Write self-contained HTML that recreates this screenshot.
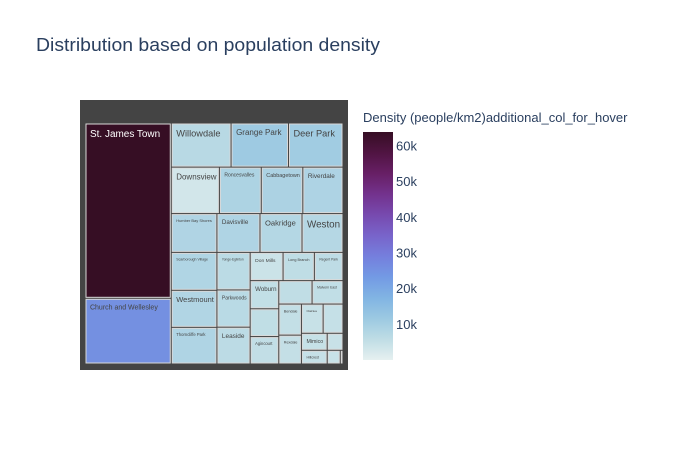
<!DOCTYPE html>
<html><head><meta charset="utf-8">
<style>
html,body{margin:0;padding:0;background:#fff;}
svg{display:block;font-family:"Liberation Sans","DejaVu Sans",sans-serif;}
</style></head>
<body>
<svg id="chart" width="700" height="450" viewBox="0 0 700 450">
  <text x="36" y="51" font-size="18" fill="#2a3f5f" textLength="344" lengthAdjust="spacingAndGlyphs">Distribution based on population density</text>
  <rect x="80" y="100" width="268" height="270" fill="#444444"></rect>
  <g id="tiles"></g>
  <defs>
    <linearGradient id="cbgrad" x1="0" y1="1" x2="0" y2="0">
      <stop offset="0" stop-color="rgb(230,240,240)"/>
      <stop offset="0.0909" stop-color="rgb(191,221,229)"/>
      <stop offset="0.1818" stop-color="rgb(156,201,226)"/>
      <stop offset="0.2727" stop-color="rgb(129,180,227)"/>
      <stop offset="0.3636" stop-color="rgb(115,154,228)"/>
      <stop offset="0.4545" stop-color="rgb(117,127,221)"/>
      <stop offset="0.5454" stop-color="rgb(120,100,202)"/>
      <stop offset="0.6363" stop-color="rgb(119,74,175)"/>
      <stop offset="0.7272" stop-color="rgb(115,50,141)"/>
      <stop offset="0.8181" stop-color="rgb(103,31,101)"/>
      <stop offset="0.9090" stop-color="rgb(80,20,66)"/>
      <stop offset="1" stop-color="rgb(54,14,36)"/>
    </linearGradient>
  </defs>
  <text x="363" y="122" font-size="13" fill="#2a3f5f">Density (people/km2)additional_col_for_hover</text>
  <rect x="363" y="132" width="30" height="228" fill="url(#cbgrad)"></rect>
  <g id="cbticks"></g>
</svg>
<script>
const names = ["St. James Town","Church and Wellesley","Willowdale","Grange Park","Deer Park","Downsview","Roncesvalles","Cabbagetown","Riverdale","Humber Bay Shores","Scarborough Village","Westmount","Thorncliffe Park","Davisville","Oakridge","Weston","Yonge-Eglinton","Parkwoods","Leaside","Don Mills","Long Branch","Regent Park","Woburn","Scarborough Junction","Agincourt","Harbourfront Queens","Malvern East","Bendale","Rexdale","Clairlea","Alderwood","Mimico","Hillcrest","Kingsview","Rouge","Humber"];
const areas = [15023,5630,2622,2517,2390,2222,1932,1918,1854,1760,1720,1680,1663,1660,1620,1580,1240,1230,1216,923,878,803,800,790,780,775,720,700,650,630,577,435,351,267,178,37];
const densities = [63800,25500,7200,11500,11000,3200,9000,9200,8800,8500,8400,8300,8600,8700,7800,7600,6600,6900,6500,4200,6000,6200,5500,5800,5600,5900,5700,5400,5300,4800,5100,4900,5000,4700,4600,200];
const cbTicks = [10000,20000,30000,40000,50000,60000];
const cbTickLabels = ["10k","20k","30k","40k","50k","60k"];

const stops=[[230,240,240],[191,221,229],[156,201,226],[129,180,227],[115,154,228],[117,127,221],[120,100,202],[119,74,175],[115,50,141],[103,31,101],[80,20,66],[54,14,36]];
const cmin=Math.min(...densities), cmax=Math.max(...densities);
function colorFor(v){
  let t=(v-cmin)/(cmax-cmin); t=Math.max(0,Math.min(1,t));
  const p=t*(stops.length-1), i=Math.min(stops.length-2,Math.floor(p)), f=p-i;
  const c=stops[i].map((a,k)=>Math.round(a+(stops[i+1][k]-a)*f));
  return {css:`rgb(${c[0]},${c[1]},${c[2]})`,lum:(0.299*c[0]+0.587*c[1]+0.114*c[2])};
}
// d3-style squarify (ratio 1)
function squarify(vals,x0,y0,x1,y1){
  const out=[];let i0=0,n=vals.length;let value=vals.reduce((a,b)=>a+b,0);
  while(i0<n){
    const dx=x1-x0,dy=y1-y0;let i1=i0,sumValue=0;
    do{sumValue=vals[i1++];}while(!sumValue&&i1<n);
    let minValue=sumValue,maxValue=sumValue;
    const alpha=Math.max(dy/dx,dx/dy)/(value);
    let beta=sumValue*sumValue*alpha;let minRatio=Math.max(maxValue/beta,beta/minValue);
    for(;i1<n;++i1){
      const nv=vals[i1];sumValue+=nv;
      if(nv<minValue)minValue=nv;if(nv>maxValue)maxValue=nv;
      beta=sumValue*sumValue*alpha;
      const newRatio=Math.max(maxValue/beta,beta/minValue);
      if(newRatio>minRatio){sumValue-=nv;break;}
      minRatio=newRatio;
    }
    const k=sumValue/value;
    if(dx<dy){ // row on top
      const h=dy*k;let x=x0;
      for(let j=i0;j<i1;j++){const w=dx*vals[j]/sumValue;out[j]=[x,y0,x+w,y0+h];x+=w;}
      y0+=h;
    }else{
      const w=dx*k;let y=y0;
      for(let j=i0;j<i1;j++){const h=dy*vals[j]/sumValue;out[j]=[x0,y,x0+w,y+h];y+=h;}
      x0+=w;
    }
    value-=sumValue;i0=i1;
  }
  return out;
}
const NS="http://www.w3.org/2000/svg";
const g=document.getElementById('tiles');
const rects=squarify(areas,85,123,343,364);
rects.forEach((r,i)=>{
  const x=r[0]+1,y=r[1]+1,w=Math.max(0,r[2]-r[0]-2),h=Math.max(0,r[3]-r[1]-2);
  const col=colorFor(densities[i]);
  const rc=document.createElementNS(NS,'rect');
  rc.setAttribute('x',x);rc.setAttribute('y',y);rc.setAttribute('width',w);rc.setAttribute('height',h);
  rc.setAttribute('fill',col.css);rc.setAttribute('stroke','#d9d9d9');rc.setAttribute('stroke-width','1');
  
  
  g.appendChild(rc);
  let fs=Math.min(10.5,(w-6)/(names[i].length*0.56));
  if(fs>=2.5 && h>fs+4){
    const t=document.createElementNS(NS,'text');
    t.setAttribute('x',x+4);t.setAttribute('y',y+4+fs*0.9);
    t.setAttribute('font-size',fs.toFixed(2));
    t.setAttribute('fill',col.lum<120?'#ffffff':'#444444');
    t.textContent=names[i];
    
    
    g.appendChild(t);
  }
});
// colorbar ticks
const cbTop=132,cbBot=360,cbMax=63900,cbMin=0;
const tg=document.getElementById('cbticks');
cbTicks.forEach((v,i)=>{
  const y=cbBot-(v-cbMin)/(cbMax-cbMin)*(cbBot-cbTop);
  const t=document.createElementNS(NS,'text');
  t.setAttribute('x',396);t.setAttribute('y',y+4.5);
  t.setAttribute('font-size','13');t.setAttribute('fill','#2a3f5f');
  t.textContent=cbTickLabels[i];
  
  
  tg.appendChild(t);
});
</script>
</body></html>
